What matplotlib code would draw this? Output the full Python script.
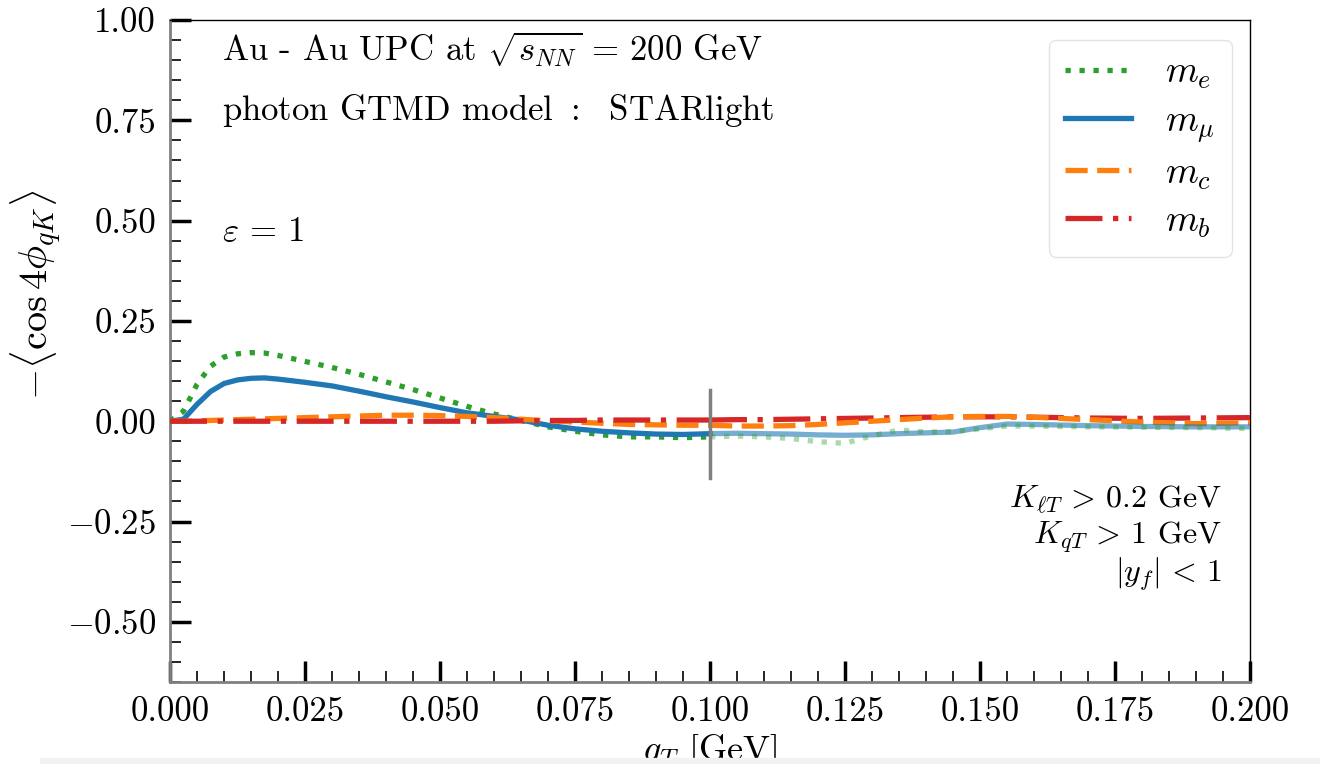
import numpy as np
import matplotlib
matplotlib.use('Agg')
import matplotlib.pyplot as plt
from matplotlib.patches import Rectangle

plt.rcParams['font.family'] = 'serif'
plt.rcParams['font.serif'] = ['cmr10']
plt.rcParams['mathtext.fontset'] = 'cm'
plt.rcParams['axes.formatter.use_mathtext'] = True

# данные
q = [0, 0.0025, 0.005, 0.0075, 0.01, 0.0125, 0.015, 0.0175, 0.02, 0.025, 0.03,
     0.035, 0.04, 0.045, 0.05, 0.055, 0.06, 0.065, 0.07, 0.075, 0.08, 0.085,
     0.09, 0.095, 0.1, 0.105, 0.11, 0.115, 0.12, 0.125, 0.13, 0.135, 0.14,
     0.145, 0.15, 0.155, 0.16, 0.17, 0.18, 0.19, 0.2]

m_e = [0, 0.025, 0.092, 0.137, 0.16, 0.168, 0.171, 0.17, 0.164, 0.149, 0.134,
       0.117, 0.098, 0.079, 0.058, 0.037, 0.018, 0.002, -0.014, -0.025, -0.034,
       -0.039, -0.039, -0.041, -0.039, -0.037, -0.039, -0.043, -0.051, -0.055,
       -0.036, -0.022, -0.027, -0.026, -0.019, -0.012, -0.012, -0.014, -0.015,
       -0.016, -0.018]

m_mu = [0, 0.005, 0.042, 0.074, 0.094, 0.103, 0.107, 0.108, 0.105, 0.097, 0.088,
        0.075, 0.061, 0.048, 0.034, 0.021, 0.012, 0.003, -0.010, -0.019, -0.025,
        -0.029, -0.032, -0.033, -0.031, -0.030, -0.031, -0.032, -0.034, -0.035,
        -0.034, -0.031, -0.029, -0.027, -0.016, -0.007, -0.008, -0.011, -0.013,
        -0.014, -0.014]

m_c = [0, 0.0, 0.001, 0.002, 0.003, 0.004, 0.005, 0.006, 0.007, 0.009, 0.011,
       0.013, 0.015, 0.015, 0.014, 0.012, 0.009, 0.005, 0.001, -0.002, -0.005,
       -0.008, -0.009, -0.010, -0.010, -0.012, -0.012, -0.011, -0.008, -0.004,
       0.0, 0.004, 0.008, 0.011, 0.012, 0.012, 0.010, 0.004, -0.002, -0.006,
       -0.004]

m_b = [0, 0, 0, 0, 0, 0, 0, 0, 0, 0, 0,
       0, 0, 0, 0, 0, 0, 0.001, 0.002, 0.002, 0.003,
       0.003, 0.003, 0.003, 0.003, 0.004, 0.004, 0.005, 0.006, 0.007,
       0.008, 0.009, 0.010, 0.011, 0.011, 0.011, 0.010, 0.008, 0.007, 0.008,
       0.009]

q_cut = 0.1
cut_low, cut_high = -0.142, 0.077

q = np.array(q)
left = q <= q_cut
right = q >= q_cut

fig = plt.figure(figsize=(13.2, 7.64), dpi=100)
ax = fig.add_axes([0.1288, 0.1073, 0.8182, 0.8665])

series = [
    (m_e, '#2ca02c', (0, (1, 1.65)), r'$m_e$', 0.4),
    (m_mu, '#1f77b4', '-', r'$m_\mu$', 0.6),
    (m_c, '#ff7f0e', (0, (4.2, 1.8)), r'$m_c$', 1.0),
    (m_b, '#d62728', (0, (7, 2, 1, 2)), r'$m_b$', 1.0),
]
for y, c, ls, lab, a in series:
    y = np.array(y)
    ax.plot(q[left], y[left], color=c, ls=ls, lw=3.8, label=lab, zorder=3)
# правая часть (бледнее)
for y, c, ls, lab, a in series[::-1]:
    y = np.array(y)
    ax.plot(q[right], y[right], color=c, ls=ls, lw=3.8, alpha=a, zorder=4 if a < 1 else 3)

ax.plot([q_cut, q_cut], [cut_low, cut_high], color='gray', lw=2.5, zorder=5)

ax.set_xlim(0, 0.2)
ax.set_ylim(-0.65, 1.0)
ax.set_xticks(np.arange(0, 0.2001, 0.025))
ax.set_yticks(np.arange(-0.5, 1.001, 0.25))
ax.set_xticks(np.arange(0, 0.2001, 0.005), minor=True)
ax.set_yticks(np.arange(-0.65, 1.001, 0.05), minor=True)
ax.xaxis.set_major_formatter(matplotlib.ticker.FormatStrFormatter('%.3f'))
ax.yaxis.set_major_formatter(matplotlib.ticker.FuncFormatter(
    lambda v, p: r'$%.2f$' % v if v < 0 else '%.2f' % v))
ax.tick_params(which='major', direction='in', length=15, width=2.5, labelsize=25, pad=10)
ax.tick_params(which='minor', direction='in', length=8, width=1.2)

ax.spines['left'].set_color('gray')
ax.spines['bottom'].set_color('gray')
ax.spines['left'].set_linewidth(2)
ax.spines['bottom'].set_linewidth(2)
ax.spines['top'].set_linewidth(1)
ax.spines['right'].set_linewidth(1)

ax.set_xlabel(r'$q_T$ [GeV]', fontsize=26)
ax.xaxis.set_label_coords(0.5, -0.075)
ax.set_ylabel(r'$-\langle \cos 4\phi_{qK} \rangle$', fontsize=29)
ax.yaxis.set_label_coords(-0.098, 0.585)

ax.text(0.048, 0.955, r'Au - Au UPC at $\sqrt{s_{NN}}\,=\,200$ GeV', transform=ax.transAxes,
        fontsize=25, va='center')
ax.text(0.048, 0.864, r'photon GTMD model $:$  STARlight', transform=ax.transAxes,
        fontsize=25, va='center')
ax.text(0.048, 0.68, r'$\varepsilon\,=\,1$', transform=ax.transAxes, fontsize=25, va='center')
ax.text(0.974, 0.275, r'$K_{\ell T}\,>\,0.2$ GeV', transform=ax.transAxes, fontsize=23,
        ha='right', va='center')
ax.text(0.974, 0.219, r'$K_{qT}\,>\,1$ GeV', transform=ax.transAxes, fontsize=23,
        ha='right', va='center')
ax.text(0.974, 0.162, r'$|y_f|\,<\,1$', transform=ax.transAxes, fontsize=23,
        ha='right', va='center')

leg = ax.legend(loc='upper right', fontsize=27, handlelength=1.75, borderpad=0.45,
                labelspacing=0.35, handletextpad=0.9, borderaxespad=0,
                bbox_to_anchor=(0.983, 0.970))
leg.get_frame().set_edgecolor('#dddddd')

fig.patches.append(Rectangle((0.03, 0.0), 0.97, 0.008, transform=fig.transFigure,
                             color='#f2f2f2', zorder=10))

fig.savefig('out.png', dpi=100)
